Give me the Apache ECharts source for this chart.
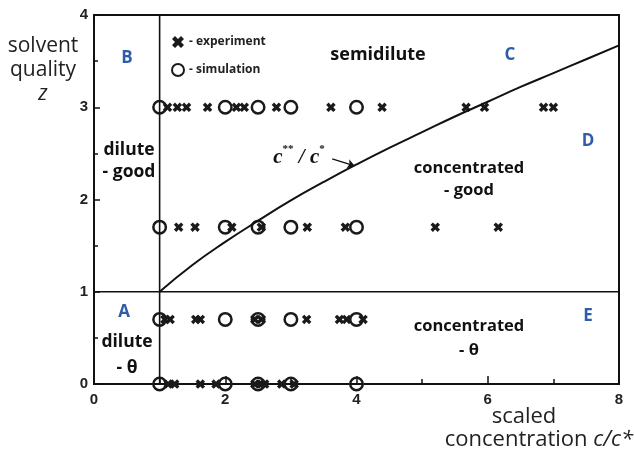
<!DOCTYPE html>
<html><head><meta charset="utf-8">
<script src="https://cdn.jsdelivr.net/npm/echarts@6/dist/echarts.min.js"></script>
<style>html,body{margin:0;padding:0;background:#fff}#c{width:634px;height:452px}</style>
</head><body><div id="c"></div>
<script>
// ---- data ----
const xTickValues = [0, 2, 4, 6, 8];
const yTickValues = [0, 1, 2, 3, 4];
const zLevels = [3, 1.7, 0.7, 0];
// experiment (crosses), one list of c/c* per z level
const expRowZ3  = [1.12, 1.27, 1.41, 1.73, 2.17, 2.29, 2.78, 3.61, 4.39, 5.67, 5.95, 6.85, 7.0];
const expRowZ17 = [1.29, 1.54, 2.1, 2.55, 3.25, 3.83, 5.2, 6.16];
const expRowZ07 = [1.08, 1.16, 1.55, 1.62, 2.45, 2.55, 3.24, 3.74, 3.85, 4.1];
const expRowZ0  = [1.13, 1.23, 1.62, 1.86, 2.45, 2.55, 2.6, 2.86, 3.05];
// simulation (circles)
const simRowZ3  = [1.0, 2.0, 2.5, 3.0, 4.0];
const simRowZ17 = [1.0, 2.0, 2.5, 3.0, 4.0];
const simRowZ07 = [1.0, 2.0, 2.5, 3.0, 4.0];
const simRowZ0  = [1.0, 2.0, 2.5, 3.0, 4.0];
// c**/c* boundary curve
const curveC = [1, 1.5, 2, 2.5, 3, 3.5, 4, 4.5, 5, 5.5, 6, 6.5, 7, 7.5, 8];
const curveZ = [1, 1.29, 1.54, 1.77, 1.99, 2.19, 2.38, 2.56, 2.73, 2.90, 3.06, 3.22, 3.37, 3.52, 3.67];
// theta line (z = 1) and dilute boundary (c/c* = 1)
const thetaLineC = [0, 8];
const thetaLineZ = [1, 1];
const diluteLineC = [1, 1];
const diluteLineZ = [0, 4];

// ---- build ----
function rows(lists) {
  const out = [];
  lists.forEach((l, i) => l.forEach(c => out.push([c, zLevels[i]])));
  return out;
}
const expData = rows([expRowZ3, expRowZ17, expRowZ07, expRowZ0]);
const simData = rows([simRowZ3, simRowZ17, simRowZ07, simRowZ0]);
const zip = (a, b) => a.map((v, i) => [v, b[i]]);

const crossPath = 'path://M0,2.5 L2.5,0 L5,2.5 L7.5,0 L10,2.5 L7.5,5 L10,7.5 L7.5,10 L5,7.5 L2.5,10 L0,7.5 L2.5,5 Z';
const blue = '#2f5ca8';
const capFont = '"Open Sans", sans-serif';
const letterFont = 'bold 17px "Open Sans", sans-serif';

const chart = echarts.init(document.getElementById('c'), null, {renderer: 'canvas'});

function txt(x, y, text, font, color, lh) {
  return {type: 'text', x: x, y: y, silent: true,
    style: {text: text, font: font, fill: color || '#111', align: 'center', verticalAlign: 'middle', lineHeight: lh || 23}};
}

chart.setOption({
  animation: false,
  backgroundColor: '#fff',
  grid: {left: 94, right: 15, top: 15, bottom: 68, show: true, borderColor: '#111', borderWidth: 2, containLabel: false},
  xAxis: {
    type: 'value', min: xTickValues[0], max: xTickValues[xTickValues.length - 1], interval: 2,
    axisLine: {show: true, lineStyle: {color: '#111', width: 2}},
    axisTick: {show: true, inside: true, length: 8, lineStyle: {color: '#111', width: 1.5}},
    minorTick: {show: true, splitNumber: 2, length: 5, lineStyle: {color: '#111', width: 1.5}},
    splitLine: {show: false},
    axisLabel: {color: '#222', fontSize: 15, fontWeight: 'bold', fontFamily: '"Liberation Sans", Arial, sans-serif', margin: 8}
  },
  yAxis: {
    type: 'value', min: yTickValues[0], max: yTickValues[yTickValues.length - 1], interval: 1,
    axisLine: {show: true, lineStyle: {color: '#111', width: 2}},
    axisTick: {show: true, inside: true, length: 6, lineStyle: {color: '#111', width: 1.5}},
    minorTick: {show: true, splitNumber: 2, length: 4, lineStyle: {color: '#111', width: 1.5}},
    splitLine: {show: false},
    axisLabel: {color: '#222', fontSize: 15, fontWeight: 'bold', fontFamily: '"Liberation Sans", Arial, sans-serif', margin: 6}
  },
  legend: {
    orient: 'vertical', left: 166, top: 31, itemWidth: 12, itemHeight: 12, itemGap: 15,
    formatter: '- {name}',
    textStyle: {fontSize: 12, fontWeight: 'bold', color: '#222', fontFamily: capFont},
    data: [{name: 'experiment', icon: crossPath}, {name: 'simulation', icon: 'circle'}],
    selectedMode: false
  },
  series: [
    {type: 'line', name: 'theta', data: zip(thetaLineC, thetaLineZ), showSymbol: false, silent: true,
      lineStyle: {color: '#111', width: 1.6}},
    {type: 'line', name: 'dilute', data: zip(diluteLineC, diluteLineZ), showSymbol: false, silent: true,
      lineStyle: {color: '#111', width: 1.6}},
    {type: 'line', name: 'cstar', data: zip(curveC, curveZ), showSymbol: false, smooth: true, silent: true,
      lineStyle: {color: '#111', width: 2}},
    {type: 'lines', coordinateSystem: 'cartesian2d', silent: true,
      symbol: ['none', 'arrow'], symbolSize: 7,
      lineStyle: {color: '#111', width: 1.3, opacity: 1},
      data: [{coords: [[3.63, 2.44], [3.97, 2.365]]}]},
    {type: 'scatter', name: 'experiment', data: expData, symbol: crossPath, symbolSize: 9.5,
      itemStyle: {color: '#1a1a1a', opacity: 1}},
    {type: 'scatter', name: 'simulation', data: simData, symbol: 'circle', symbolSize: 12.5,
      itemStyle: {color: 'rgba(255,255,255,0)', borderColor: '#1a1a1a', borderWidth: 2.5, opacity: 1}}
  ],
  graphic: [
    txt(127, 58, 'B', letterFont, blue),
    txt(510, 55, 'C', letterFont, blue),
    txt(588, 141, 'D', letterFont, blue),
    txt(124, 312, 'A', letterFont, blue),
    txt(588, 316, 'E', letterFont, blue),
    txt(378, 55, 'semidilute', 'bold 18px "Open Sans", sans-serif'),
    txt(129, 161, 'dilute\n- good', 'bold 17.5px "Open Sans", sans-serif', '#111', 22),
    txt(469, 179, 'concentrated\n- good', 'bold 16.5px "Open Sans", sans-serif', '#111', 22),
    txt(469, 338, 'concentrated\n- θ', 'bold 16.5px "Open Sans", sans-serif', '#111', 24),
    txt(127, 355, 'dilute\n- θ', 'bold 17.5px "Open Sans", sans-serif', '#111', 26),
    {type: 'text', x: 299, y: 156, silent: true,
      style: {text: '{c|c}{s|**}{c| / c}{s|*}', align: 'center', verticalAlign: 'middle',
        rich: {
          c: {font: 'italic bold 21px "Liberation Serif", "Times New Roman", serif', fill: '#111', lineHeight: 24, verticalAlign: 'bottom'},
          s: {font: 'bold 11px "Liberation Serif", serif', fill: '#111', lineHeight: 24, verticalAlign: 'top'}
        }}},
    {type: 'text', x: 43, y: 34, silent: true,
      style: {text: 'solvent\nquality\n{i|z}', font: '21px ' + capFont, fill: '#222', align: 'center', verticalAlign: 'top', lineHeight: 24,
        rich: {i: {font: 'italic 21px ' + capFont, fill: '#222', lineHeight: 24}}}},
    {type: 'text', x: 524, y: 405, silent: true,
      style: {text: 'scaled', font: '22px ' + capFont, fill: '#222', align: 'center', verticalAlign: 'top', lineHeight: 24}},
    {type: 'text', x: 633, y: 428, silent: true,
      style: {text: 'concentration {i|c/c*}', font: '22px ' + capFont, fill: '#222', align: 'right', verticalAlign: 'top', lineHeight: 24,
        rich: {i: {font: 'italic 22px ' + capFont, fill: '#222', lineHeight: 24}}}}
  ]
});
</script>
</body></html>
